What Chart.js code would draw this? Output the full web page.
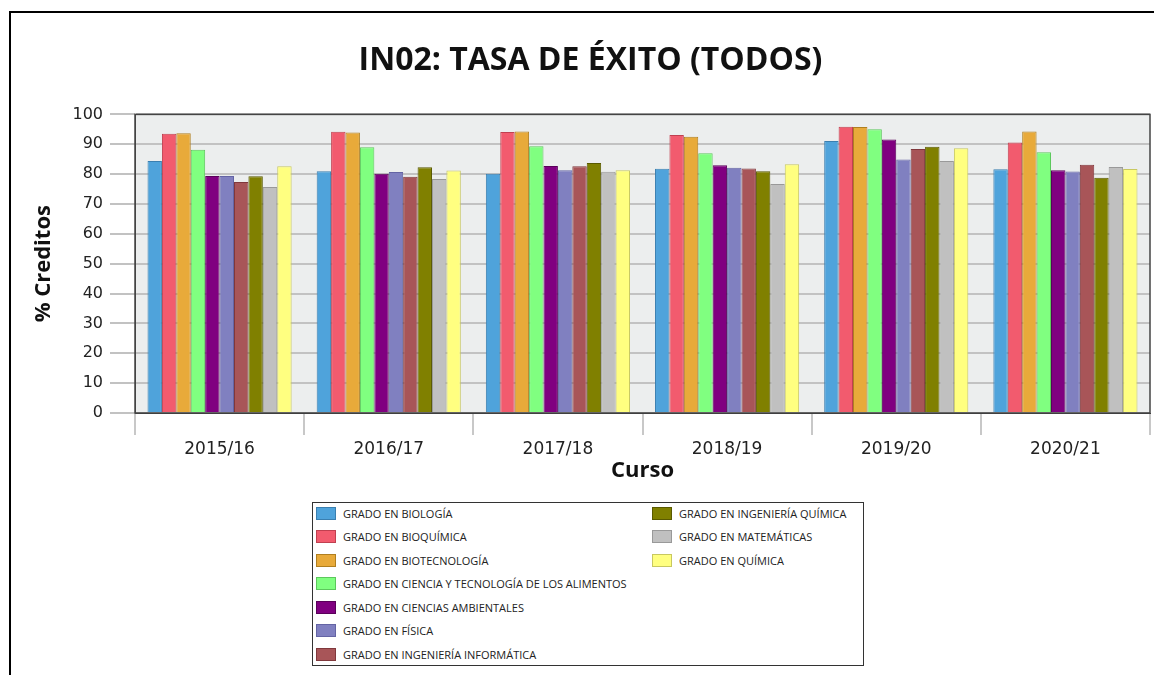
<!DOCTYPE html>
<html>
<head>
<meta charset="utf-8">
<script src="https://cdn.jsdelivr.net/npm/chart.js@4/dist/chart.umd.min.js"></script>
<style>
    body { margin: 0; background: #fff; }
    #page { position: relative; width: 1154px; height: 675px; overflow: hidden; }
    #frame { position: absolute; left: 9px; top: 11px; right: 0; bottom: 0; border-top: 2px solid #000; border-left: 2px solid #000; }
    #chartBox { position: absolute; left: 0; top: 0; width: 1154px; height: 675px; }
    #legend { position: absolute; left: 312px; top: 502px; width: 550px; height: 162px; border: 1px solid #333; background: #fff; font-family: "Open Sans", sans-serif; font-size: 11px; color: #222; }
    .item { position: absolute; height: 14px; line-height: 14px; white-space: nowrap; }
    .swatch { position: absolute; width: 18px; height: 11px; top: 0; }
    .label { position: absolute; top: 0; }
</style>
</head>
<body>
<div id="page">
    <div id="frame"></div>
    <div id="chartBox"><canvas id="exitoGraph"></canvas></div>
    <div id="legend"></div>
</div>
<script>
//cursos (x axis)
const cursos = ['2015/16', '2016/17', '2017/18', '2018/19', '2019/20', '2020/21'];

//tasa de exito por grado, % creditos
const biologia = [84.4, 81.0, 80.1, 81.8, 91.1, 81.6];
const bioquimica = [93.5, 94.2, 94.1, 93.1, 95.9, 90.6];
const biotecnologia = [93.7, 93.9, 94.3, 92.5, 95.8, 94.3];
const cienciaAlimentos = [88.2, 89.0, 89.3, 87.0, 95.0, 87.3];
const ambientales = [79.4, 80.1, 82.7, 83.0, 91.6, 81.3];
const fisica = [79.4, 80.7, 81.3, 82.1, 84.9, 80.9];
const informatica = [77.4, 79.1, 82.6, 81.9, 88.4, 83.1];
const ingQuimica = [79.3, 82.3, 83.7, 81.0, 89.2, 78.8];
const matematicas = [75.7, 78.4, 80.8, 76.7, 84.4, 82.4];
const quimica = [82.6, 81.2, 81.3, 83.3, 88.7, 81.7];

const grados = ['GRADO EN BIOLOGÍA', 'GRADO EN BIOQUÍMICA', 'GRADO EN BIOTECNOLOGÍA',
    'GRADO EN CIENCIA Y TECNOLOGÍA DE LOS ALIMENTOS', 'GRADO EN CIENCIAS AMBIENTALES',
    'GRADO EN FÍSICA', 'GRADO EN INGENIERÍA INFORMÁTICA', 'GRADO EN INGENIERÍA QUÍMICA',
    'GRADO EN MATEMÁTICAS', 'GRADO EN QUÍMICA'];
const series = [biologia, bioquimica, biotecnologia, cienciaAlimentos, ambientales,
    fisica, informatica, ingQuimica, matematicas, quimica];

const fills = ['#4fa3db', '#f25b6e', '#e8aa3a', '#80ff80', '#800080',
    '#8080c0', '#a85558', '#808000', '#c0c0c0', '#ffff80'];
const borders = ['#3a7fb0', '#c04050', '#b07f20', '#5cc85c', '#5a005a',
    '#6464a4', '#80383c', '#5a5a00', '#999999', '#c8c860'];

const datasets = series.map(function(vals, i) {
    return {
        label: grados[i],
        data: vals,
        backgroundColor: fills[i],
        borderColor: borders[i],
        borderWidth: 1,
        categoryPercentage: 0.852,
        barPercentage: 1.0
    };
});

//grey plot background + dark frame round the plot
const plotBg = {
    id: 'plotBg',
    beforeDraw(chart) {
        const a = chart.chartArea;
        const c = chart.ctx;
        c.save();
        c.fillStyle = '#eceeee';
        c.fillRect(a.left, a.top, a.right - a.left, a.bottom - a.top);
        c.restore();
    },
    afterDraw(chart) {
        const a = chart.chartArea;
        const c = chart.ctx;
        c.save();
        c.strokeStyle = '#444';
        c.lineWidth = 1.5;
        c.strokeRect(a.left, a.top, a.right - a.left, a.bottom - a.top);
        c.restore();
    }
};

const ctx = document.getElementById('exitoGraph');
const exitoChart = new Chart(ctx, {
    type: 'bar',
    data: {
        labels: cursos,
        datasets: datasets
    },
    plugins: [plotBg],
    options: {
        responsive: true,
        maintainAspectRatio: false,
        animation: false,
        layout: {
            padding: { left: 31, right: 4, top: 0, bottom: 191 }
        },
        plugins: {
            legend: { display: false },
            tooltip: { enabled: false },
            title: {
                display: true,
                text: 'IN02: TASA DE ÉXITO (TODOS)',
                color: '#111',
                font: { family: 'Open Sans', size: 32, weight: 'bold' },
                padding: { top: 42, bottom: 34 }
            }
        },
        scales: {
            x: {
                afterFit(scale) { scale.height = 71; },
                grid: {
                    offset: true,
                    drawOnChartArea: false,
                    drawTicks: true,
                    tickLength: 22,
                    color: '#c8c8c8',
                    lineWidth: 2
                },
                border: { display: true, color: '#333', width: 1 },
                ticks: {
                    color: '#222',
                    padding: 4,
                    maxRotation: 0,
                    font: { family: 'DejaVu Sans', size: 17 }
                },
                title: {
                    display: true,
                    text: 'Curso',
                    color: '#111',
                    padding: { top: 0, bottom: 0 },
                    font: { family: 'Open Sans', size: 22, weight: 'bold' }
                }
            },
            y: {
                min: 0,
                max: 100,
                afterFit(scale) { scale.width = 104; },
                grid: {
                    color: '#c2c2c2',
                    lineWidth: 2,
                    tickLength: 25
                },
                border: { display: true, color: '#444', width: 1 },
                ticks: {
                    stepSize: 10,
                    color: '#222',
                    padding: 7,
                    font: { family: 'DejaVu Sans', size: 16 }
                },
                title: {
                    display: true,
                    text: '% Creditos',
                    color: '#111',
                    padding: { top: 0, bottom: 0 },
                    font: { family: 'Open Sans', size: 22, weight: 'bold' }
                }
            }
        }
    }
});

//legend in two columns (filled column by column like the original)
const legendBox = document.getElementById('legend');
grados.forEach(function(name, i) {
    const col = i < 7 ? 0 : 1;
    const row = i < 7 ? i : i - 7;
    const item = document.createElement('div');
    item.className = 'item';
    item.style.left = (col === 0 ? 3 : 339) + 'px';
    item.style.top = (3.5 + row * 23.5) + 'px';
    const sw = document.createElement('span');
    sw.className = 'swatch';
    sw.style.background = fills[i];
    sw.style.border = '1px solid ' + borders[i];
    const tx = document.createElement('span');
    tx.className = 'label';
    tx.style.left = '27px';
    tx.textContent = name;
    item.appendChild(sw);
    item.appendChild(tx);
    legendBox.appendChild(item);
});
</script>
</body>
</html>
